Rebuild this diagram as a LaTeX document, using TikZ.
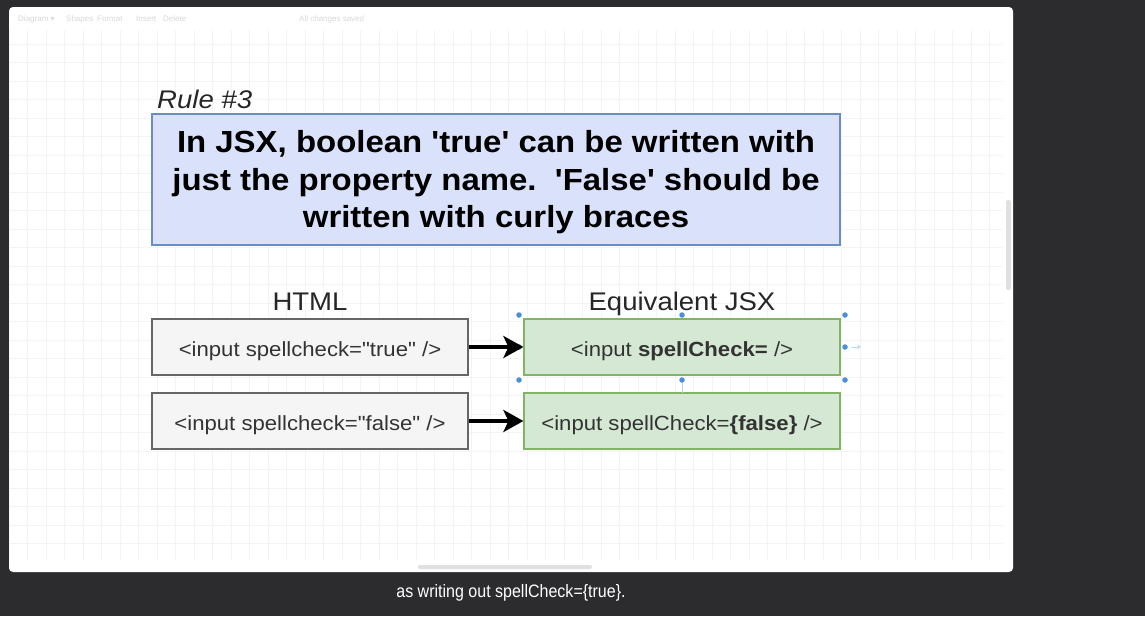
\documentclass[tikz,border=0pt]{standalone}
\usepackage{fontspec}
\setmainfont{Liberation Sans}[Ligatures=TeXOff, FakeStretch=1.08]
\newfontfamily\capfont{Liberation Sans}[FakeStretch=0.89]
\newfontfamily\plainfont{Liberation Sans}
\newfontfamily\symfont{DejaVu Sans}
\usetikzlibrary{arrows.meta}
\definecolor{darkbg}{HTML}{2C2C2E}
\definecolor{gridc}{HTML}{F4F4F4}
\definecolor{bluefill}{HTML}{DAE1FA}
\definecolor{blueline}{HTML}{6C8EBF}
\definecolor{greyfill}{HTML}{F5F5F5}
\definecolor{greyline}{HTML}{666666}
\definecolor{greenfill}{HTML}{D5E8D4}
\definecolor{greenline}{HTML}{82B366}
\definecolor{handle}{HTML}{4A90D9}
\tikzset{
  htmlbox/.style={draw=greyline, fill=greyfill, line width=1.2pt, minimum width=316pt, minimum height=56pt, inner sep=0pt},
  jsxbox/.style={draw=greenline, fill=greenfill, line width=1.2pt, minimum width=316pt, minimum height=56pt, inner sep=0pt},
  boxtxt/.style={anchor=base, inner sep=0pt, font=\fontsize{20.5}{24}\selectfont, text=black!80},
  header/.style={anchor=base, font=\fontsize{25.5}{30}\selectfont, inner sep=0pt, text=black!85},
  conv/.style={line width=3.6pt, -{Stealth[length=20pt,width=22pt,inset=5pt]}},
  hdl/.style={fill=handle, draw=none, circle, minimum size=5.5pt, inner sep=0pt},
  faint/.style={font=\plainfont\fontsize{8}{9}\selectfont, text=black!15, inner sep=0pt, anchor=west}
}
\begin{document}
\begin{tikzpicture}[x=1pt,y=-1pt]
\useasboundingbox (0,0) rectangle (1145,616);
\fill[darkbg] (0,0) rectangle (1145,616);
% canvas
\fill[white, rounded corners=4pt] (9,7) rectangle (1013,572);
\begin{scope}
\clip (9,30) rectangle (1003,560);
\foreach \x in {0,...,55} {\draw[gridc, line width=0.6pt] (9+18.5*\x,7) -- (9+18.5*\x,572);}
\foreach \y in {0,...,31} {\draw[gridc, line width=0.6pt] (9,7+18.5*\y) -- (1013,7+18.5*\y);}
\end{scope}
% toolbar (faint)
\node[faint] (tb1) at (18,19) {Diagram {\symfont ▾}};
\node[faint] (tb2) at (66,19) {Shapes};
\node[faint] (tb3) at (97,19) {Format};
\node[faint] (tb4) at (136,19) {Insert};
\node[faint] (tb5) at (163,19) {Delete};
\node[faint] (tb6) at (299,19) {All changes saved};
% scrollbars
\fill[black!12, rounded corners=2pt] (1006,200) rectangle (1011,290);
\fill[black!12, rounded corners=2pt] (418,565) rectangle (592,569);

% title
\node[font=\fontsize{25.5}{30}\selectfont\itshape, anchor=base west, inner sep=0pt, text=black!85] (rule) at (157,108) {Rule \#3};
\node[draw=blueline, fill=bluefill, line width=1.2pt, minimum width=688pt, minimum height=131pt, inner sep=0pt] (main) at (496,179.5) {};
\node[align=center, inner sep=0pt, font=\fontsize{30.5}{37.4}\selectfont\bfseries] (maintxt) at ([yshift=-3pt]main.center)
  {In JSX, boolean 'true' can be written with\\just the property name.\ \ 'False' should be\\written with curly braces};

% headers
\node[header] (hhtml) at (310,310.7) {HTML};
\node[header] (hjsx) at (682,310.7) {Equivalent JSX};

% boxes
\node[htmlbox] (h1) at (310,347) {};
\node[htmlbox] (h2) at (310,421) {};
\node[jsxbox] (j1) at (682,347) {};
\node[jsxbox] (j2) at (682,421) {};
\node[boxtxt] (h1t) at ([yshift=-9pt]h1.center) {<input spellcheck="true" />};
\node[boxtxt] (h2t) at ([yshift=-9pt]h2.center) {<input spellcheck="false" />};
\node[boxtxt] (j1t) at ([yshift=-9pt]j1.center) {<input \textbf{spellCheck=} />};
\node[boxtxt] (j2t) at ([yshift=-9pt]j2.center) {<input spellCheck=\textbf{\{false\}} />};

% selection handles around j1
\draw[handle!40, line width=1pt] (682,380) -- (682,393);
\foreach \p/\q in {519/315, 682/315, 845/315, 519/347, 845/347, 519/380, 682/380, 845/380}
  \node[hdl] at (\p,\q) {};
\coordinate (hov) at (851,347);
\draw[handle!35, line width=1pt, -{Stealth[length=4pt,width=5pt]}] (hov) -- ++(10,0);

% connectors
\draw[conv] (h1) -- (j1);
\draw[conv] (h2) -- (j2);

% caption
\node[text=white, font=\capfont\fontsize{18}{20}\selectfont, inner sep=0pt, anchor=base] (cap) at (511,597) {as writing out spellCheck=\{true\}.};
\end{tikzpicture}
\end{document}
